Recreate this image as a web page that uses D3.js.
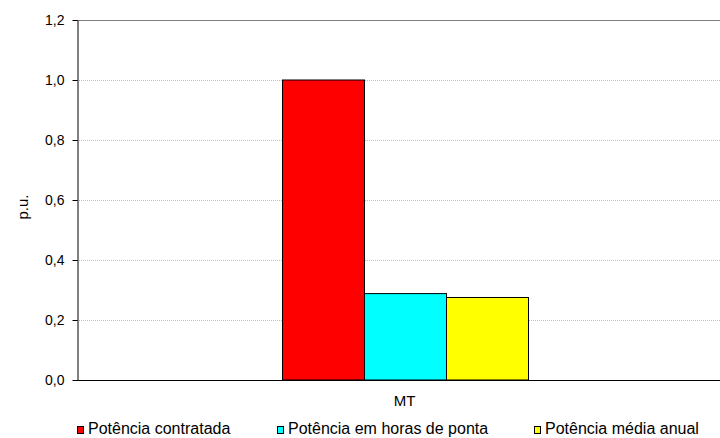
<!DOCTYPE html>
<html><head><meta charset="utf-8">
<script src="https://cdn.jsdelivr.net/npm/d3@7"></script>
<style>body{margin:0;background:#fff;overflow:hidden}svg{display:block}text{font-family:"Liberation Sans",Arial,sans-serif}</style>
</head><body><svg id="c" width="720" height="438"></svg>
<script>
const categories = ["MT"];
const seriesNames = ["Potência contratada", "Potência em horas de ponta", "Potência média anual"];
const seriesValues = [1.0, 0.288, 0.275];
const yTicks = [0, 0.2, 0.4, 0.6, 0.8, 1.0, 1.2];
const colors = ["#ff0000", "#00ffff", "#ffff00"];

const svg = d3.select("#c");
const m = {l:77, t:20, b:380, r:732};
const y = d3.scaleLinear().domain([0,1.2]).range([m.b, m.t]);
const x = d3.scaleBand().domain(categories).range([m.l, m.r]);
const xs = d3.scaleBand().domain(seriesNames).range([0, 246]);
const fmt = d => d3.format(".1f")(d).replace(".", ",");

// gridlines
svg.append("g").selectAll("line").data(yTicks.filter(d=>d>0 && d<1.2)).join("line")
  .attr("x1", m.l).attr("x2", 720).attr("y1", d=>y(d)+0.5).attr("y2", d=>y(d)+0.5)
  .attr("stroke", "#c0c0c0").attr("stroke-dasharray", "1,1");
svg.append("line").attr("x1", m.l).attr("x2", 720).attr("y1", y(1.2)+0.5).attr("y2", y(1.2)+0.5)
  .attr("stroke", "#808080");

// bars
const g0 = Math.round(x("MT") + x.bandwidth()/2 - 123) + 0.5;
svg.append("g").selectAll("rect").data(seriesValues).join("rect")
  .attr("x", (d,i)=>g0 + xs(seriesNames[i]))
  .attr("y", d=>y(d))
  .attr("width", xs.bandwidth())
  .attr("height", d=>y(0)-y(d))
  .attr("fill", (d,i)=>colors[i]).attr("stroke", "#000").attr("stroke-width", 1);

// axes
const ya = svg.append("g").attr("transform", `translate(${m.l+0.5},0)`)
  .call(d3.axisLeft(y).tickValues(yTicks).tickFormat(fmt).tickSize(5).tickSizeOuter(0));
ya.select(".domain").attr("stroke", "#000");
ya.selectAll(".tick line").attr("stroke", "#000");
ya.selectAll(".tick text").attr("font-size", 14).attr("fill", "#000").attr("x", -13);
svg.append("line").attr("x1", m.l).attr("x2", 720).attr("y1", m.b+0.5).attr("y2", m.b+0.5).attr("stroke", "#000");

svg.append("text").attr("x", x("MT")+x.bandwidth()/2).attr("y", 406).attr("text-anchor","middle")
  .attr("font-size", 15).text(categories[0]);

svg.append("text").attr("transform", "translate(28,207) rotate(-90)").attr("text-anchor","middle")
  .attr("font-size", 15).text("p.u.");

// legend
const lx = [77, 277, 534];
const lg = svg.append("g").selectAll("g").data(seriesNames).join("g")
  .attr("transform", (d,i)=>`translate(${lx[i]},0)`);
lg.append("rect").attr("x",0.5).attr("y",426.5).attr("width",6).attr("height",7)
  .attr("fill",(d,i)=>colors[i]).attr("stroke","#000");
lg.append("text").attr("x", 11).attr("y", 434).attr("font-size", 16).text(d=>d);
</script></body></html>
